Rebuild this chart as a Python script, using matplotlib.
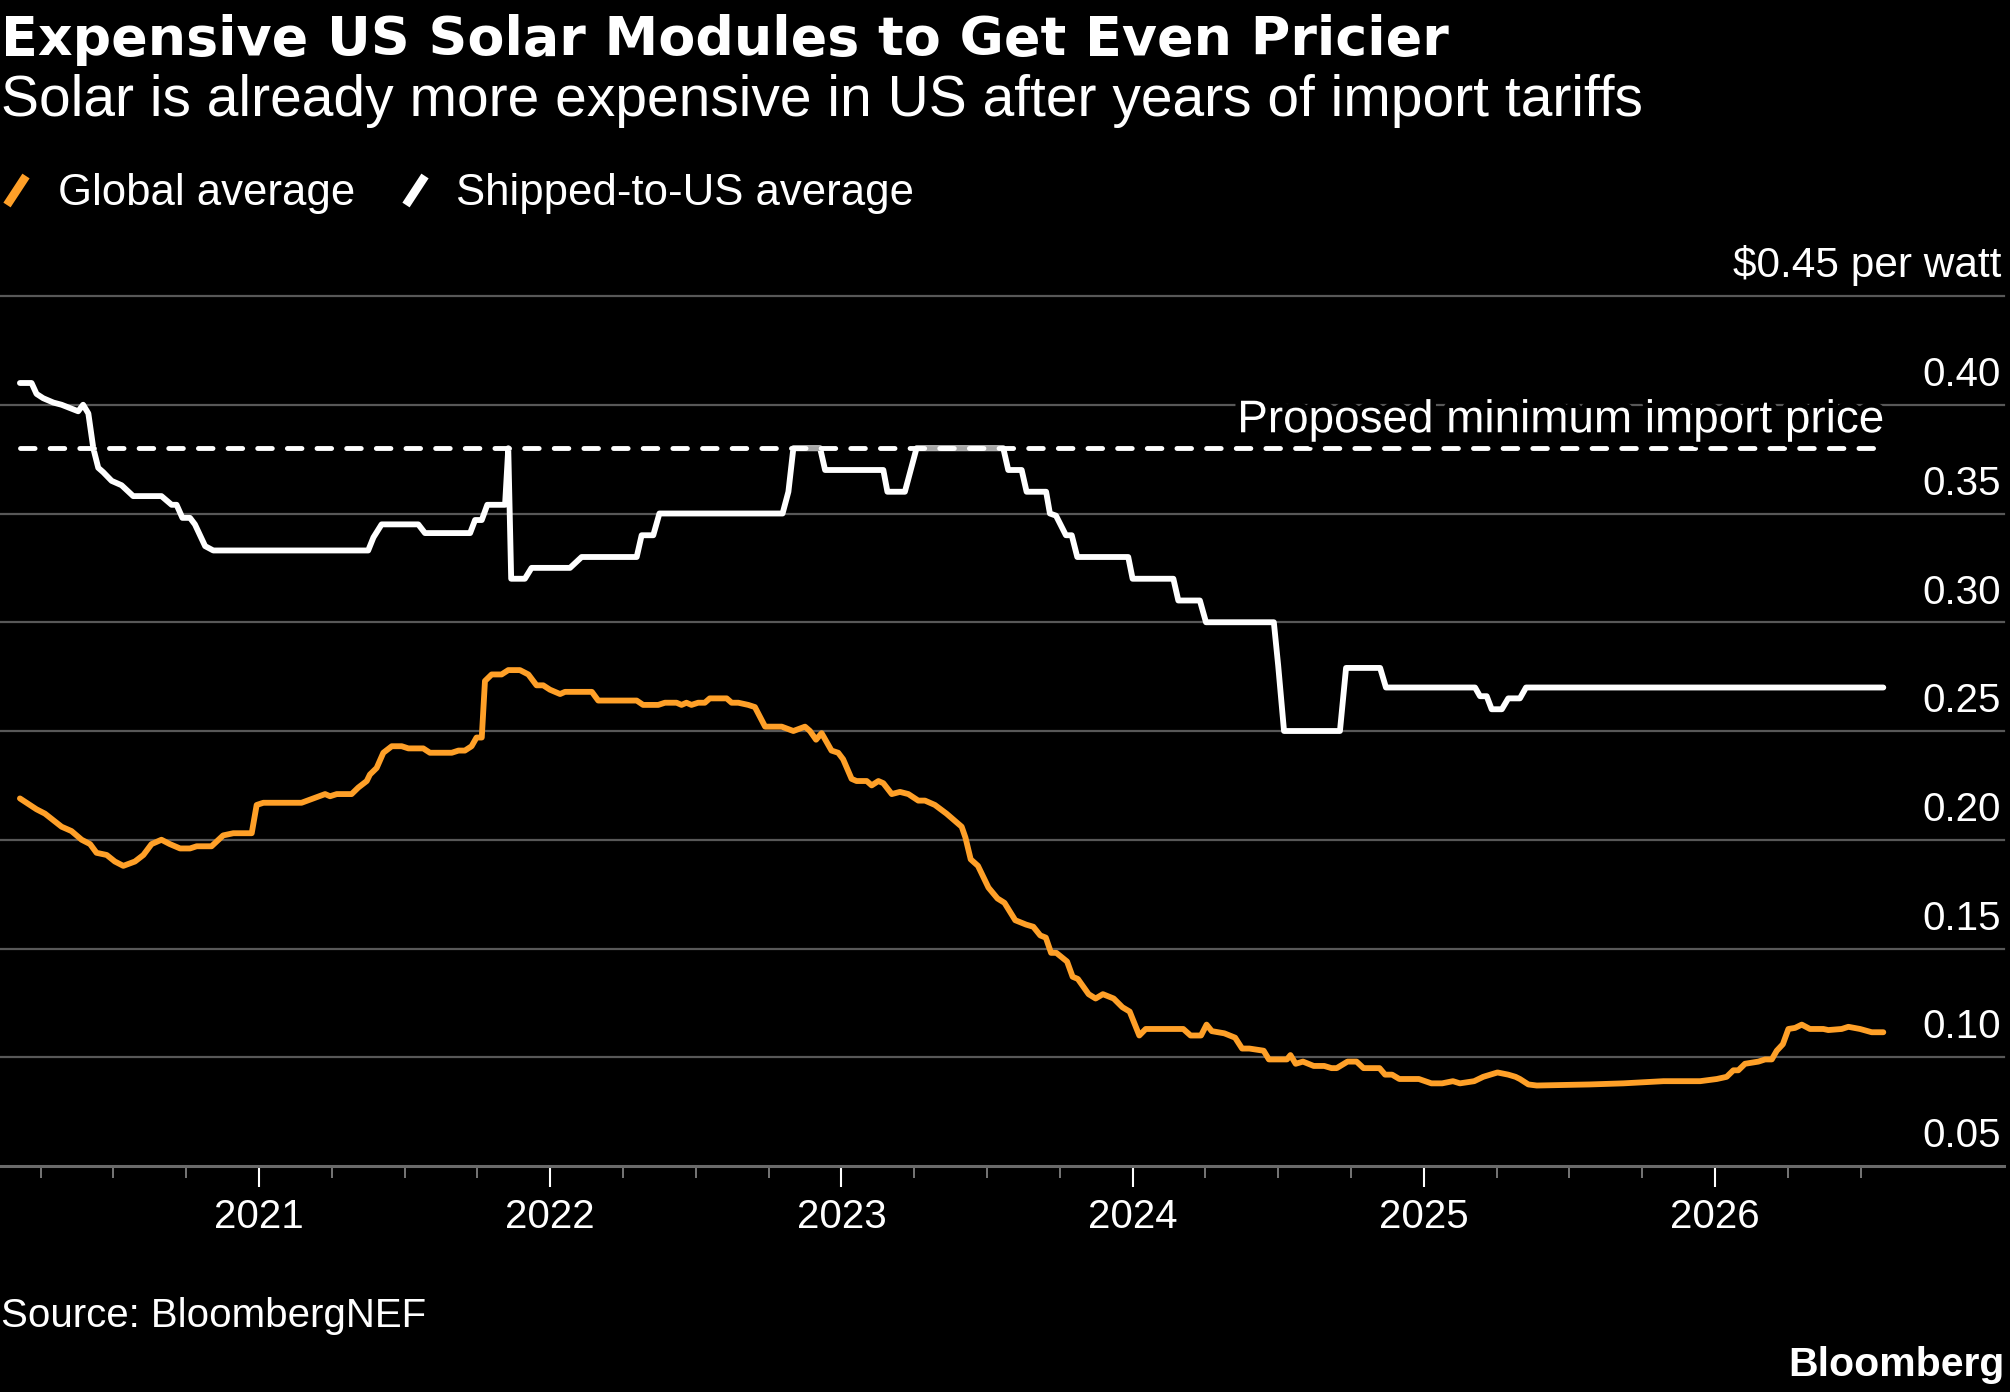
import matplotlib
matplotlib.use("Agg")
import matplotlib.pyplot as plt
from matplotlib import patheffects as pe
from matplotlib.lines import Line2D

plt.rcParams['font.family'] = ['Liberation Sans', 'DejaVu Sans']

# ---------------- data (x = decimal year) ----------------
us_t = [2020.179, 2020.219, 2020.236, 2020.259, 2020.294, 2020.322, 2020.379, 2020.396,
        2020.414, 2020.431, 2020.448, 2020.465, 2020.494, 2020.528, 2020.568, 2020.665,
        2020.700, 2020.717, 2020.737, 2020.763, 2020.780, 2020.815, 2020.843, 2021.375,
        2021.393, 2021.421, 2021.547, 2021.570, 2021.725, 2021.742, 2021.765, 2021.784,
        2021.845, 2021.856, 2021.866, 2021.913, 2021.936, 2022.068, 2022.108, 2022.297,
        2022.314, 2022.354, 2022.375, 2022.798, 2022.818, 2022.835, 2022.927, 2022.944,
        2023.144, 2023.158, 2023.218, 2023.258, 2023.556, 2023.573, 2023.619, 2023.636,
        2023.703, 2023.716, 2023.737, 2023.771, 2023.791, 2023.810, 2023.985, 2024.000,
        2024.140, 2024.157, 2024.231, 2024.252, 2024.485, 2024.500, 2024.520, 2024.712,
        2024.733, 2024.850, 2024.870, 2025.176, 2025.193, 2025.216, 2025.233, 2025.268,
        2025.290, 2025.330, 2025.351, 2026.578]
us_v = [0.410, 0.410, 0.405, 0.403, 0.401, 0.400, 0.397, 0.400,
        0.396, 0.380, 0.371, 0.369, 0.365, 0.363, 0.358, 0.358,
        0.354, 0.354, 0.348, 0.348, 0.345, 0.335, 0.333, 0.333,
        0.339, 0.345, 0.345, 0.341, 0.341, 0.347, 0.347, 0.354,
        0.354, 0.380, 0.320, 0.320, 0.325, 0.325, 0.330, 0.330,
        0.340, 0.340, 0.350, 0.350, 0.360, 0.380, 0.380, 0.370,
        0.370, 0.360, 0.360, 0.380, 0.380, 0.370, 0.370, 0.360,
        0.360, 0.350, 0.349, 0.340, 0.340, 0.330, 0.330, 0.320,
        0.320, 0.310, 0.310, 0.300, 0.300, 0.280, 0.250, 0.250,
        0.279, 0.279, 0.270, 0.270, 0.266, 0.266, 0.260, 0.260,
        0.265, 0.265, 0.270, 0.270]

global_t = [2020.179, 2020.236, 2020.265, 2020.322, 2020.356, 2020.391, 2020.420, 2020.442,
            2020.477, 2020.505, 2020.534, 2020.574, 2020.603, 2020.631, 2020.665, 2020.694,
            2020.729, 2020.763, 2020.786, 2020.837, 2020.877, 2020.912, 2020.975, 2020.992,
            2021.015, 2021.146, 2021.227, 2021.244, 2021.267, 2021.318, 2021.341, 2021.370,
            2021.381, 2021.404, 2021.427, 2021.456, 2021.490, 2021.513, 2021.564, 2021.587,
            2021.662, 2021.685, 2021.707, 2021.730, 2021.747, 2021.765, 2021.776, 2021.799,
            2021.833, 2021.856, 2021.896, 2021.925, 2021.953, 2021.976, 2021.999, 2022.034,
            2022.051, 2022.143, 2022.165, 2022.297, 2022.319, 2022.371, 2022.394, 2022.434,
            2022.451, 2022.468, 2022.485, 2022.508, 2022.531, 2022.548, 2022.606, 2022.623,
            2022.646, 2022.680, 2022.703, 2022.738, 2022.795, 2022.835, 2022.875, 2022.892,
            2022.913, 2022.932, 2022.966, 2022.989, 2023.006, 2023.035, 2023.052, 2023.087,
            2023.104, 2023.127, 2023.144, 2023.173, 2023.201, 2023.230, 2023.264, 2023.287,
            2023.321, 2023.361, 2023.413, 2023.426, 2023.444, 2023.469, 2023.505, 2023.536,
            2023.560, 2023.597, 2023.634, 2023.659, 2023.683, 2023.702, 2023.720, 2023.738,
            2023.775, 2023.794, 2023.812, 2023.849, 2023.873, 2023.898, 2023.935, 2023.965,
            2023.990, 2024.023, 2024.045, 2024.174, 2024.199, 2024.235, 2024.254, 2024.272,
            2024.315, 2024.352, 2024.376, 2024.401, 2024.450, 2024.468, 2024.530, 2024.542,
            2024.560, 2024.585, 2024.622, 2024.658, 2024.683, 2024.701, 2024.738, 2024.769,
            2024.793, 2024.848, 2024.867, 2024.891, 2024.916, 2024.946, 2024.983, 2025.026,
            2025.063, 2025.100, 2025.124, 2025.173, 2025.204, 2025.253, 2025.290, 2025.315,
            2025.330, 2025.359, 2025.388, 2025.571, 2025.685, 2025.823, 2025.949, 2026.006,
            2026.040, 2026.063, 2026.080, 2026.103, 2026.149, 2026.172, 2026.195, 2026.212,
            2026.233, 2026.252, 2026.275, 2026.298, 2026.326, 2026.372, 2026.389, 2026.435,
            2026.458, 2026.498, 2026.538, 2026.578]
global_v = [0.219, 0.214, 0.212, 0.206, 0.204, 0.200, 0.198, 0.194,
            0.193, 0.190, 0.188, 0.190, 0.193, 0.198, 0.200, 0.198,
            0.196, 0.196, 0.197, 0.197, 0.202, 0.203, 0.203, 0.216,
            0.217, 0.217, 0.221, 0.220, 0.221, 0.221, 0.224, 0.227,
            0.230, 0.233, 0.240, 0.243, 0.243, 0.242, 0.242, 0.240,
            0.240, 0.241, 0.241, 0.243, 0.247, 0.247, 0.273, 0.276,
            0.276, 0.278, 0.278, 0.276, 0.271, 0.271, 0.269, 0.267,
            0.268, 0.268, 0.264, 0.264, 0.262, 0.262, 0.263, 0.263,
            0.262, 0.263, 0.262, 0.263, 0.263, 0.265, 0.265, 0.263,
            0.263, 0.262, 0.261, 0.252, 0.252, 0.250, 0.252, 0.250,
            0.246, 0.249, 0.241, 0.240, 0.237, 0.228, 0.227, 0.227,
            0.225, 0.227, 0.226, 0.221, 0.222, 0.221, 0.218, 0.218,
            0.216, 0.212, 0.206, 0.201, 0.191, 0.188, 0.178, 0.173,
            0.171, 0.163, 0.161, 0.160, 0.156, 0.155, 0.148, 0.148,
            0.144, 0.137, 0.136, 0.129, 0.127, 0.129, 0.127, 0.123,
            0.121, 0.110, 0.113, 0.113, 0.110, 0.110, 0.115, 0.112,
            0.111, 0.109, 0.104, 0.104, 0.103, 0.099, 0.099, 0.101,
            0.097, 0.098, 0.096, 0.096, 0.095, 0.095, 0.098, 0.098,
            0.095, 0.095, 0.092, 0.092, 0.090, 0.090, 0.090, 0.088,
            0.088, 0.089, 0.088, 0.089, 0.091, 0.093, 0.092, 0.091,
            0.090, 0.0875, 0.087, 0.0875, 0.088, 0.089, 0.089, 0.090,
            0.091, 0.094, 0.094, 0.097, 0.098, 0.099, 0.099, 0.103,
            0.106, 0.113, 0.1135, 0.115, 0.113, 0.113, 0.1125, 0.113,
            0.114, 0.113, 0.1115, 0.1115]

min_price_t = [2020.179, 2026.578]
min_price_v = [0.38, 0.38]
min_price_label = "Proposed minimum import price"

y_ticks = [0.05, 0.10, 0.15, 0.20, 0.25, 0.30, 0.35, 0.40, 0.45]
y_labels = ["0.05", "0.10", "0.15", "0.20", "0.25", "0.30", "0.35", "0.40", "$0.45 per watt"]
year_ticks = [2021, 2022, 2023, 2024, 2025, 2026]
year_labels = ["2021", "2022", "2023", "2024", "2025", "2026"]
quarter_ticks = [2020.25, 2020.5, 2020.75, 2021.25, 2021.5, 2021.75, 2022.25, 2022.5, 2022.75,
                 2023.25, 2023.5, 2023.75, 2024.25, 2024.5, 2024.75, 2025.25, 2025.5, 2025.75,
                 2026.25, 2026.5]

title = "Expensive US Solar Modules to Get Even Pricier"
subtitle = "Solar is already more expensive in US after years of import tariffs"
series_names = ["Global average", "Shipped-to-US average"]
source = "Source: BloombergNEF"

ORANGE = "#FFA028"
WHITE = "#FFFFFF"
GRID = "#585858"

# ---------------- figure ----------------
W, H, DPI = 2010, 1392, 100
fig = plt.figure(figsize=(W / DPI, H / DPI), dpi=DPI, facecolor="black")


def fy(px):
    return 1 - px / H


def fx(px):
    return px / W


ax = fig.add_axes([0, fy(1166), fx(2004), (1166 - 296) / H])
ax.set_facecolor("black")
ax.set_xlim(2020.1106, 2026.9924)
ax.set_ylim(0.05, 0.45)

for s in ["top", "left", "right"]:
    ax.spines[s].set_visible(False)
ax.spines["bottom"].set_color("#6a6a6a")
ax.spines["bottom"].set_linewidth(2.2)

for v in y_ticks[1:]:
    ax.axhline(v, color=GRID, lw=1.6, zorder=1, clip_on=False)

for v, lab in zip(y_ticks, y_labels):
    ax.annotate(lab, xy=(1, v), xycoords=("axes fraction", "data"),
                xytext=(-2, 13.5), textcoords="offset points",
                ha="right", va="baseline", color="white",
                fontsize=30.5 if lab.startswith("$") else 29,
                annotation_clip=False)

ax.set_xticks(year_ticks)
ax.set_xticklabels(year_labels)
ax.set_xticks(quarter_ticks, minor=True)
ax.tick_params(axis="x", which="major", direction="out", length=15, width=1.5,
               color="white", labelcolor="white", labelsize=29, pad=8)
ax.tick_params(axis="x", which="minor", direction="out", length=8.5, width=1.2,
               color="#8a8a8a")
ax.tick_params(axis="y", left=False, labelleft=False)

ax.plot(us_t, us_v, color=WHITE, lw=4.2, solid_joinstyle="round",
        solid_capstyle="round", zorder=3)
ax.plot(global_t, global_v, color=ORANGE, lw=4.2, solid_joinstyle="round",
        solid_capstyle="round", zorder=3)
ax.plot(min_price_t, min_price_v, color=WHITE, lw=3.5, linestyle=(0, (3.0, 3.1)),
        dash_capstyle="round", gapcolor=(0, 0, 0, 0.35), zorder=4)
ax.annotate(min_price_label, xy=(min_price_t[-1], min_price_v[-1]),
            xytext=(0.5, 11.5), textcoords="offset points", ha="right", va="baseline",
            color="white", fontsize=33,
            path_effects=[pe.withStroke(linewidth=8, foreground="black")], zorder=5)

# ---------------- header ----------------
fig.text(fx(1), fy(55), title, color="white", fontsize=38.8, fontweight="bold",
         family=["DejaVu Sans"], va="baseline", ha="left")
fig.text(fx(1), fy(116), subtitle, color="white", fontsize=41, va="baseline", ha="left")

# legend
leg_y = fy(205)
fig.add_artist(Line2D([fx(7), fx(26)], [fy(205), fy(176)], color=ORANGE, lw=6.2,
                      solid_capstyle="butt"))
fig.text(fx(58), leg_y, series_names[0], color="white", fontsize=31.5, va="baseline")
fig.add_artist(Line2D([fx(406), fx(425)], [fy(205), fy(176)], color=WHITE, lw=6.2,
                      solid_capstyle="butt"))
fig.text(fx(456), leg_y, series_names[1], color="white", fontsize=31.5, va="baseline")

# footer
fig.text(fx(1), fy(1327), source, color="white", fontsize=29, va="baseline")
fig.text(fx(2004), fy(1376), "Bloomberg", color="white", fontsize=29.5,
         fontweight="bold", va="baseline", ha="right")

fig.savefig("out.png", dpi=DPI, facecolor="black")
